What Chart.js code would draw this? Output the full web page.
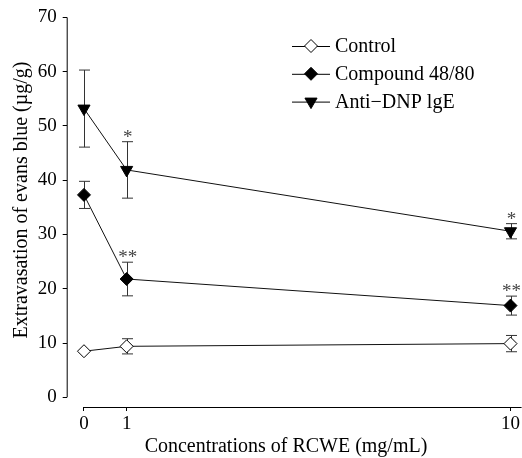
<!DOCTYPE html>
<html>
<head>
<meta charset="utf-8">
<script src="https://cdn.jsdelivr.net/npm/chart.js@4.4.1/dist/chart.umd.min.js"></script>
<style>
  html, body { margin: 0; padding: 0; background: #fff; }
  #wrap { width: 522px; height: 458px; }
</style>
</head>
<body>
<div id="wrap"><canvas id="chartEvans"></canvas></div>
<script>
// data
const concentrations = [0, 1, 10];
const xTicks = [0, 1, 10];
const yTicks = [0, 10, 20, 30, 40, 50, 60, 70];

const controlMean = [8.5, 9.4, 9.9];
const controlErr = [0, 1.4, 1.5];
const compoundMean = [37.3, 21.8, 16.9];
const compoundErr = [2.5, 3.1, 1.75];
const antiDnpMean = [53.2, 41.9, 30.6];
const antiDnpErr = [7.1, 5.2, 1.4];

const compoundStars = ['', '**', '**'];
const antiDnpStars = ['', '*', '*'];

const seriesNames = ['Control', 'Compound 48/80', 'Anti\u2212DNP lgE'];
const xTitle = 'Concentrations of RCWE (mg/mL)';
const yTitle = 'Extravasation of evans blue (\u00b5g/g)';

const serif = "'Liberation Serif', 'Times New Roman', serif";
Chart.defaults.font.family = serif;
Chart.defaults.font.size = 19;
Chart.defaults.color = '#000';

function toPoints(means) {
  return concentrations.map((c, i) => ({ x: c, y: means[i] }));
}

const errors = [controlErr, compoundErr, antiDnpErr];
const stars = [null, compoundStars, antiDnpStars];

// axis lines: y from 0 to 70, x starting at 0
const axisLines = {
  id: 'axisLines',
  beforeDatasetsDraw(chart) {
    const { ctx, chartArea, scales } = chart;
    ctx.save();
    ctx.strokeStyle = '#000';
    ctx.lineWidth = 1;
    ctx.beginPath();
    ctx.moveTo(chartArea.left + 0.5, scales.y.getPixelForValue(70));
    ctx.lineTo(chartArea.left + 0.5, scales.y.getPixelForValue(0));
    ctx.moveTo(scales.x.getPixelForValue(0), chartArea.bottom + 0.5);
    ctx.lineTo(chartArea.right, chartArea.bottom + 0.5);
    ctx.stroke();
    ctx.restore();
  }
};

const errorBars = {
  id: 'errorBars',
  beforeDatasetsDraw(chart) {
    const { ctx, scales } = chart;
    ctx.save();
    ctx.strokeStyle = '#333';
    ctx.lineWidth = 1;
    chart.data.datasets.forEach((ds, d) => {
      ds.data.forEach((p, i) => {
        const e = errors[d][i];
        if (!e) return;
        const x = Math.round(scales.x.getPixelForValue(p.x)) + 0.5;
        const top = scales.y.getPixelForValue(p.y + e);
        const bot = scales.y.getPixelForValue(p.y - e);
        ctx.beginPath();
        ctx.moveTo(x, top);
        ctx.lineTo(x, bot);
        ctx.moveTo(x - 5.5, top);
        ctx.lineTo(x + 5.5, top);
        ctx.moveTo(x - 5.5, bot);
        ctx.lineTo(x + 5.5, bot);
        ctx.stroke();
      });
    });
    ctx.restore();
  },
  afterDatasetsDraw(chart) {
    const { ctx, scales } = chart;
    ctx.save();
    ctx.fillStyle = '#444';
    ctx.font = '19px ' + serif;
    ctx.textAlign = 'center';
    ctx.textBaseline = 'middle';
    chart.data.datasets.forEach((ds, d) => {
      if (!stars[d]) return;
      ds.data.forEach((p, i) => {
        const s = stars[d][i];
        if (!s) return;
        const x = scales.x.getPixelForValue(p.x) + 1;
        const y = scales.y.getPixelForValue(p.y + errors[d][i]) - 4;
        ctx.fillText(s, x, y);
      });
    });
    ctx.restore();
  }
};

// legend inside the plot, line with marker in the middle
const insideLegend = {
  id: 'insideLegend',
  afterDraw(chart) {
    const { ctx } = chart;
    ctx.save();
    chart.data.datasets.forEach((ds, i) => {
      const y = 46 + i * 27.8;
      ctx.strokeStyle = '#000';
      ctx.lineWidth = 1;
      ctx.beginPath();
      ctx.moveTo(292, y + 0.5);
      ctx.lineTo(330, y + 0.5);
      ctx.stroke();
      ctx.fillStyle = ds.pointBackgroundColor;
      ctx.strokeStyle = ds.pointBorderColor;
      ctx.lineWidth = ds.pointBorderWidth;
      Chart.helpers.drawPoint(ctx, {
        pointStyle: ds.pointStyle,
        radius: ds.pointRadius,
        rotation: ds.pointRotation,
        borderWidth: ds.pointBorderWidth
      }, 311, y);
      ctx.fillStyle = '#000';
      ctx.font = '20px ' + serif;
      ctx.textAlign = 'left';
      ctx.textBaseline = 'middle';
      ctx.fillText(ds.label, 335, y + 1);
    });
    ctx.restore();
  }
};

const axisTitles = {
  id: 'axisTitles',
  afterDraw(chart) {
    const { ctx } = chart;
    ctx.save();
    ctx.fillStyle = '#000';
    ctx.font = '20px ' + serif;
    ctx.textAlign = 'center';
    ctx.textBaseline = 'alphabetic';
    ctx.fillText(xTitle, 286, 452);
    ctx.translate(27, 200);
    ctx.rotate(-Math.PI / 2);
    ctx.fillText(yTitle, 0, 0);
    ctx.restore();
  }
};

const common = {
  borderColor: '#111',
  borderWidth: 1,
  pointBorderColor: '#000',
  pointBorderWidth: 1,
  tension: 0
};

const data = {
  datasets: [
    Object.assign({}, common, {
      label: seriesNames[0],
      data: toPoints(controlMean),
      pointStyle: 'rectRot',
      pointRadius: 6.5,
      pointRotation: 0,
      pointBackgroundColor: '#fff'
    }),
    Object.assign({}, common, {
      label: seriesNames[1],
      data: toPoints(compoundMean),
      pointStyle: 'rectRot',
      pointRadius: 6.5,
      pointRotation: 0,
      pointBackgroundColor: '#000'
    }),
    Object.assign({}, common, {
      label: seriesNames[2],
      data: toPoints(antiDnpMean),
      pointStyle: 'triangle',
      pointRadius: 7,
      pointRotation: 180,
      pointBackgroundColor: '#000'
    })
  ]
};

const config = {
  type: 'line',
  data: data,
  plugins: [axisLines, errorBars, insideLegend, axisTitles],
  options: {
    responsive: true,
    maintainAspectRatio: false,
    animation: false,
    layout: { padding: { top: 15, right: 0, left: 0, bottom: 0 }, autoPadding: false },
    plugins: { legend: { display: false }, tooltip: { enabled: false } },
    scales: {
      x: {
        type: 'linear',
        min: -0.405,
        max: 10.26,
        afterBuildTicks: (scale) => { scale.ticks = xTicks.map(v => ({ value: v })); },
        afterFit: (scale) => { scale.height = 51; },
        grid: { display: true, drawOnChartArea: false, drawTicks: true, tickLength: 4, color: '#000' },
        border: { display: false },
        ticks: { padding: 2, maxRotation: 0, autoSkip: false }
      },
      y: {
        type: 'linear',
        min: -1.78,
        max: 70,
        afterBuildTicks: (scale) => { scale.ticks = yTicks.map(v => ({ value: v })); },
        afterFit: (scale) => { scale.width = 66.7; },
        grid: { display: true, drawOnChartArea: false, drawTicks: true, tickLength: 4, color: '#000' },
        border: { display: false },
        ticks: { padding: 6 }
      }
    }
  }
};

const myChart = new Chart(document.getElementById('chartEvans'), config);
</script>
</body>
</html>
